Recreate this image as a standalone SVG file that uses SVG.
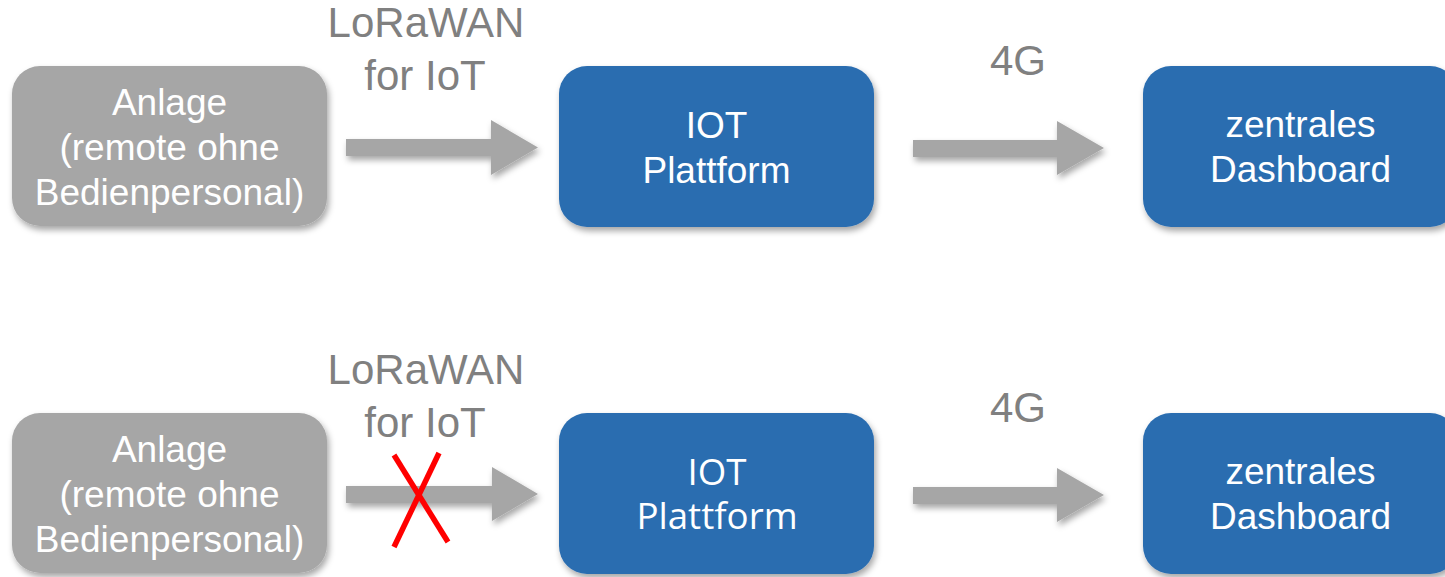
<svg xmlns="http://www.w3.org/2000/svg" width="1445" height="577" viewBox="0 0 1445 577">
<defs>
<filter id="sh" x="-10%" y="-10%" width="130%" height="140%">
<feDropShadow dx="2" dy="4" stdDeviation="3" flood-color="#000" flood-opacity="0.35"/>
</filter>
<style>
.g{fill:#a6a6a6;filter:url(#sh)}
.b{fill:#2a6db0;filter:url(#sh)}
.t{font-family:"Liberation Sans",Arial,sans-serif;font-size:37px;fill:#fff;text-anchor:middle}
.o{font-family:"Open Sans",sans-serif;font-size:36.7px;fill:#fff;text-anchor:middle}
.l{font-family:"Liberation Sans",Arial,sans-serif;font-size:42px;fill:#808080;text-anchor:middle}
.a{fill:#a6a6a6;filter:url(#sh)}
.x{stroke:#ff0000;stroke-width:5.5;fill:none}
</style>
</defs>
<rect width="1445" height="577" fill="#fff"/>
<g id="anlage1">
<rect class="g" x="12" y="66" width="315" height="160" rx="28"/>
<text class="t" x="169.5" y="115">Anlage</text>
<text class="t" x="169.5" y="160">(remote ohne</text>
<text class="t" x="169.5" y="205">Bedienpersonal)</text>
</g>
<g id="iot1">
<rect class="b" x="559" y="66" width="315" height="161" rx="28"/>
<text class="t" x="716.5" y="138">IOT</text>
<text class="t" x="716.5" y="183">Plattform</text>
</g>
<g id="dash1">
<rect class="b" x="1143" y="66" width="315" height="161" rx="28"/>
<text class="t" x="1300.5" y="137">zentrales</text>
<text class="t" x="1300.5" y="182">Dashboard</text>
</g>
<g id="anlage2">
<rect class="g" x="12" y="413" width="315" height="160" rx="28"/>
<text class="t" x="169.5" y="462">Anlage</text>
<text class="t" x="169.5" y="507">(remote ohne</text>
<text class="t" x="169.5" y="552">Bedienpersonal)</text>
</g>
<g id="iot2">
<rect class="b" x="559" y="413" width="315" height="161" rx="28"/>
<text class="o" x="717" y="485">IOT</text>
<text class="o" x="717" y="529">Plattform</text>
</g>
<g id="dash2">
<rect class="b" x="1143" y="413" width="315" height="161" rx="28"/>
<text class="t" x="1300.5" y="484">zentrales</text>
<text class="t" x="1300.5" y="529">Dashboard</text>
</g>
<g id="connectors">
<polygon class="a" points="346,139 491,139 491,120 538,147.5 491,175 491,156 346,156"/>
<polygon class="a" points="913,140 1057,140 1057,121 1104,148 1057,175 1057,157 913,157"/>
<polygon class="a" points="346,486 492,486 492,467 538,494 492,521 492,503 346,503"/>
<polygon class="a" points="913,487 1057,487 1057,468 1104,495 1057,522 1057,504 913,504"/>
<line class="x" x1="394" y1="455" x2="448" y2="542"/>
<line class="x" x1="439" y1="453" x2="394" y2="547"/>
</g>
<g id="labels">
<text class="l" x="426" y="37">LoRaWAN</text>
<text class="l" x="425" y="90">for IoT</text>
<text class="l" x="1018" y="75">4G</text>
<text class="l" x="426" y="384">LoRaWAN</text>
<text class="l" x="425" y="437">for IoT</text>
<text class="l" x="1018" y="422">4G</text>
</g>
</svg>
